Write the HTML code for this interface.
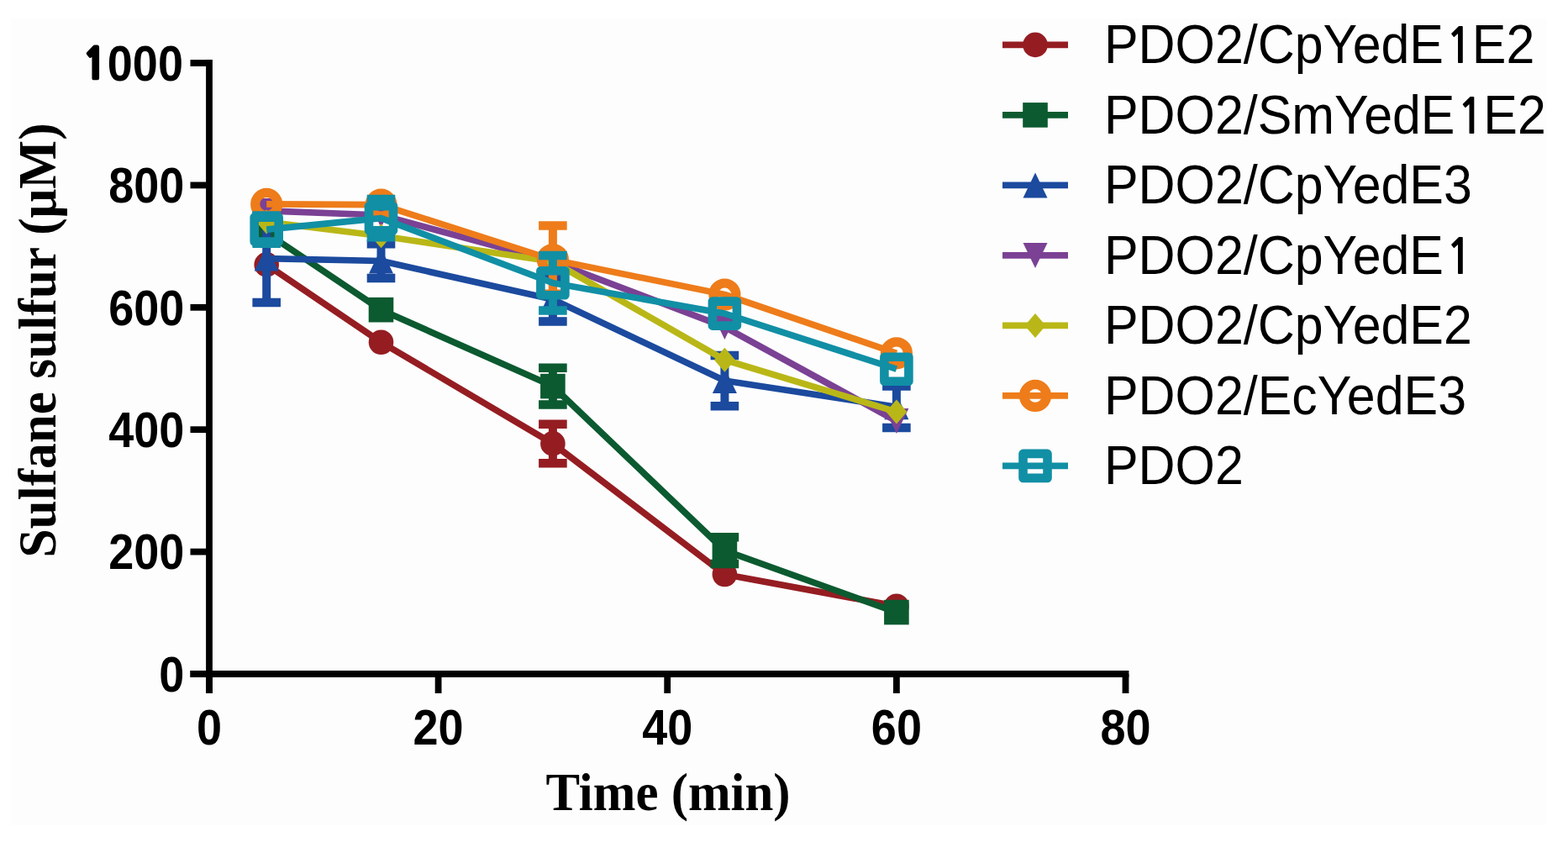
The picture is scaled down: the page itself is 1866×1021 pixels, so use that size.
<!DOCTYPE html>
<html><head><meta charset="utf-8"><title>Sulfane sulfur</title>
<style>
html,body{margin:0;padding:0;background:#fff;}
body{width:1866px;height:1021px;overflow:hidden;position:relative;}
svg{position:absolute;left:0;top:0;}
.tk{font-family:"Liberation Sans",Arial,sans-serif;font-weight:bold;font-size:56px;fill:#000;}
.ttl{font-family:"Liberation Serif","Times New Roman",serif;font-weight:bold;font-size:63px;fill:#000;}
.lg{font-family:"Liberation Sans",Arial,sans-serif;font-size:60px;fill:#000;}
.one{font-family:"NanumGothic","Liberation Sans",sans-serif;}
.tk .one{font-weight:800;font-size:46.5px;stroke:#000;stroke-width:2.6px;}
.lg .one{font-weight:bold;font-size:53.5px;}
</style></head>
<body>
<svg width="1866" height="1021" viewBox="0 0 1866 1021">
<defs><mask id="m_orange" maskUnits="userSpaceOnUse" x="0" y="0" width="1866" height="1021"><rect width="1866" height="1021" fill="#fff"/><circle cx="317.2" cy="242.9" r="18" fill="#000"/><circle cx="453.5" cy="243.7" r="18" fill="#000"/><circle cx="657.9" cy="309.1" r="18" fill="#000"/><circle cx="862.4" cy="350.5" r="18" fill="#000"/><circle cx="1066.9" cy="420.3" r="18" fill="#000"/></mask><mask id="m_teal" maskUnits="userSpaceOnUse" x="0" y="0" width="1866" height="1021"><rect width="1866" height="1021" fill="#fff"/><rect x="299.2" y="255.1" width="36" height="36" fill="#000"/><rect x="435.5" y="241.7" width="36" height="36" fill="#000"/><rect x="639.9" y="318.7" width="36" height="36" fill="#000"/><rect x="844.4" y="355.1" width="36" height="36" fill="#000"/><rect x="1048.9" y="421.2" width="36" height="36" fill="#000"/></mask></defs>
<rect x="13" y="22" width="1828" height="960" fill="#fdfdfd"/>
<path d="M249.0,71.1 V825.0" stroke="#000" stroke-width="7.8" fill="none"/>
<path d="M226.5,802.0 H1343.4" stroke="#000" stroke-width="7.8" fill="none"/>
<path d="M226.5,802.0 H249.0" stroke="#000" stroke-width="7.8"/>
<text transform="translate(219.3,822.8) scale(0.965,1.065)" text-anchor="end" class="tk">0</text>
<path d="M226.5,656.6 H249.0" stroke="#000" stroke-width="7.8"/>
<text transform="translate(219.3,677.4) scale(0.965,1.065)" text-anchor="end" class="tk">200</text>
<path d="M226.5,511.2 H249.0" stroke="#000" stroke-width="7.8"/>
<text transform="translate(219.3,532.0) scale(0.965,1.065)" text-anchor="end" class="tk">400</text>
<path d="M226.5,365.8 H249.0" stroke="#000" stroke-width="7.8"/>
<text transform="translate(219.3,386.6) scale(0.965,1.065)" text-anchor="end" class="tk">600</text>
<path d="M226.5,220.4 H249.0" stroke="#000" stroke-width="7.8"/>
<text transform="translate(219.3,241.2) scale(0.965,1.065)" text-anchor="end" class="tk">800</text>
<path d="M226.5,75.0 H249.0" stroke="#000" stroke-width="7.8"/>
<text transform="translate(219.3,95.8) scale(0.965,1.065)" text-anchor="end" class="tk"><tspan class="one" dx="-1.4" dy="-1.6">1</tspan><tspan dx="1.4" dy="1.6">000</tspan></text>
<path d="M249.0,802.0 V825.0" stroke="#000" stroke-width="7.8"/>
<text transform="translate(249.0,886) scale(0.965,1.065)" text-anchor="middle" class="tk">0</text>
<path d="M521.6,802.0 V825.0" stroke="#000" stroke-width="7.8"/>
<text transform="translate(521.6,886) scale(0.965,1.065)" text-anchor="middle" class="tk">20</text>
<path d="M794.2,802.0 V825.0" stroke="#000" stroke-width="7.8"/>
<text transform="translate(794.2,886) scale(0.965,1.065)" text-anchor="middle" class="tk">40</text>
<path d="M1066.9,802.0 V825.0" stroke="#000" stroke-width="7.8"/>
<text transform="translate(1066.9,886) scale(0.965,1.065)" text-anchor="middle" class="tk">60</text>
<path d="M1339.5,802.0 V825.0" stroke="#000" stroke-width="7.8"/>
<text transform="translate(1339.5,886) scale(0.965,1.065)" text-anchor="middle" class="tk">80</text>
<text transform="translate(795,964) scale(0.966,1)" text-anchor="middle" class="ttl">Time (min)</text>
<text transform="translate(66,405) rotate(-90) scale(0.973,1)" text-anchor="middle" class="ttl">Sulfane sulfur (μM)</text>
<g><g>


<path d="M657.9,504.7 V551.2" stroke="#951D22" stroke-width="10" fill="none"/><path d="M641.1,504.7 H674.7 M641.1,551.2 H674.7" stroke="#951D22" stroke-width="10.5" fill="none"/>


</g>
<polyline points="317.2,314.9 453.5,407.2 657.9,527.9 862.4,683.5 1066.9,721.3" fill="none" stroke="#951D22" stroke-width="7.7" stroke-linejoin="round"/>
<circle cx="317.2" cy="314.9" r="14.8" fill="#951D22"/>
<circle cx="453.5" cy="407.2" r="14.8" fill="#951D22"/>
<circle cx="657.9" cy="527.9" r="14.8" fill="#951D22"/>
<circle cx="862.4" cy="683.5" r="14.8" fill="#951D22"/>
<circle cx="1066.9" cy="721.3" r="14.8" fill="#951D22"/>
</g>
<g><g>


<path d="M657.9,437.8 V481.4" stroke="#0C5A30" stroke-width="10" fill="none"/><path d="M641.1,437.8 H674.7 M641.1,481.4 H674.7" stroke="#0C5A30" stroke-width="10.5" fill="none"/>
<path d="M862.4,639.2 V671.1" stroke="#0C5A30" stroke-width="10" fill="none"/><path d="M845.6,639.2 H879.2 M845.6,671.1 H879.2" stroke="#0C5A30" stroke-width="10.5" fill="none"/>

</g>
<polyline points="317.2,277.1 453.5,368.7 657.9,459.6 862.4,655.1 1066.9,728.6" fill="none" stroke="#0C5A30" stroke-width="7.7" stroke-linejoin="round"/>
<rect x="302.4" y="262.3" width="29.6" height="29.6" fill="#0C5A30"/>
<rect x="438.7" y="353.9" width="29.6" height="29.6" fill="#0C5A30"/>
<rect x="643.1" y="444.8" width="29.6" height="29.6" fill="#0C5A30"/>
<rect x="847.6" y="640.3" width="29.6" height="29.6" fill="#0C5A30"/>
<rect x="1052.1" y="713.8" width="29.6" height="29.6" fill="#0C5A30"/>
</g>
<g><g>
<path d="M317.2,255.3 V360.0" stroke="#1B4A9E" stroke-width="10" fill="none"/><path d="M300.4,255.3 H334.0 M300.4,360.0 H334.0" stroke="#1B4A9E" stroke-width="10.5" fill="none"/>
<path d="M453.5,290.2 V330.9" stroke="#1B4A9E" stroke-width="10" fill="none"/><path d="M436.7,290.2 H470.3 M436.7,330.9 H470.3" stroke="#1B4A9E" stroke-width="10.5" fill="none"/>
<path d="M657.9,330.2 V382.5" stroke="#1B4A9E" stroke-width="10" fill="none"/><path d="M641.1,330.2 H674.7 M641.1,382.5 H674.7" stroke="#1B4A9E" stroke-width="10.5" fill="none"/>
<path d="M862.4,422.9 V483.2" stroke="#1B4A9E" stroke-width="10" fill="none"/><path d="M845.6,422.9 H879.2 M845.6,483.2 H879.2" stroke="#1B4A9E" stroke-width="10.5" fill="none"/>
<path d="M1066.9,459.6 V509.0" stroke="#1B4A9E" stroke-width="10" fill="none"/><path d="M1050.1,459.6 H1083.7 M1050.1,509.0 H1083.7" stroke="#1B4A9E" stroke-width="10.5" fill="none"/>
</g>
<polyline points="317.2,307.6 453.5,310.5 657.9,356.3 862.4,453.0 1066.9,484.3" fill="none" stroke="#1B4A9E" stroke-width="7.7" stroke-linejoin="round"/>
<path d="M317.2,292.6 L331.7,322.6 L302.7,322.6Z" fill="#1B4A9E"/>
<path d="M453.5,295.5 L468.0,325.5 L439.0,325.5Z" fill="#1B4A9E"/>
<path d="M657.9,341.3 L672.4,371.3 L643.4,371.3Z" fill="#1B4A9E"/>
<path d="M862.4,438.0 L876.9,468.0 L847.9,468.0Z" fill="#1B4A9E"/>
<path d="M1066.9,469.3 L1081.4,499.3 L1052.4,499.3Z" fill="#1B4A9E"/>
</g>
<g><g>





</g>
<polyline points="317.2,250.9 453.5,256.0 657.9,311.3 862.4,389.1 1066.9,501.0" fill="none" stroke="#7B4194" stroke-width="7.7" stroke-linejoin="round"/>
<path d="M317.2,265.9 L331.7,235.9 L302.7,235.9Z" fill="#7B4194"/>
<path d="M453.5,271.0 L468.0,241.0 L439.0,241.0Z" fill="#7B4194"/>
<path d="M657.9,326.3 L672.4,296.3 L643.4,296.3Z" fill="#7B4194"/>
<path d="M862.4,404.1 L876.9,374.1 L847.9,374.1Z" fill="#7B4194"/>
<path d="M1066.9,516.0 L1081.4,486.0 L1052.4,486.0Z" fill="#7B4194"/>
</g>
<g><g>





</g>
<polyline points="317.2,264.0 453.5,280.7 657.9,311.3 862.4,428.3 1066.9,490.1" fill="none" stroke="#B9B717" stroke-width="7.7" stroke-linejoin="round"/>
<path d="M317.2,249.5 L329.7,264.0 L317.2,278.5 L304.7,264.0Z" fill="#B9B717"/>
<path d="M453.5,266.2 L466.0,280.7 L453.5,295.2 L441.0,280.7Z" fill="#B9B717"/>
<path d="M657.9,296.8 L670.4,311.3 L657.9,325.8 L645.4,311.3Z" fill="#B9B717"/>
<path d="M862.4,413.8 L874.9,428.3 L862.4,442.8 L849.9,428.3Z" fill="#B9B717"/>
<path d="M1066.9,475.6 L1079.4,490.1 L1066.9,504.6 L1054.4,490.1Z" fill="#B9B717"/>
</g>
<g><g mask="url(#m_orange)">


<path d="M657.9,268.4 V349.8" stroke="#EE7C1A" stroke-width="10" fill="none"/><path d="M641.1,268.4 H674.7 M641.1,349.8 H674.7" stroke="#EE7C1A" stroke-width="10.5" fill="none"/>


</g>
<polyline points="317.2,242.9 453.5,243.7 657.9,309.1 862.4,350.5 1066.9,420.3" fill="none" stroke="#EE7C1A" stroke-width="7.7" stroke-linejoin="round"/>
<circle cx="317.2" cy="242.9" r="13.5" fill="none" stroke="#EE7C1A" stroke-width="11.2"/>
<circle cx="453.5" cy="243.7" r="13.5" fill="none" stroke="#EE7C1A" stroke-width="11.2"/>
<circle cx="657.9" cy="309.1" r="13.5" fill="none" stroke="#EE7C1A" stroke-width="11.2"/>
<circle cx="862.4" cy="350.5" r="13.5" fill="none" stroke="#EE7C1A" stroke-width="11.2"/>
<circle cx="1066.9" cy="420.3" r="13.5" fill="none" stroke="#EE7C1A" stroke-width="11.2"/>
</g>
<g><g mask="url(#m_teal)">
<path d="M317.2,256.4 V289.8" stroke="#118FA5" stroke-width="10" fill="none"/><path d="M300.4,256.4 H334.0 M300.4,289.8 H334.0" stroke="#118FA5" stroke-width="10.5" fill="none"/>
<path d="M453.5,237.1 V282.2" stroke="#118FA5" stroke-width="10" fill="none"/><path d="M436.7,237.1 H470.3 M436.7,282.2 H470.3" stroke="#118FA5" stroke-width="10.5" fill="none"/>
<path d="M657.9,304.0 V369.4" stroke="#118FA5" stroke-width="10" fill="none"/><path d="M641.1,304.0 H674.7 M641.1,369.4 H674.7" stroke="#118FA5" stroke-width="10.5" fill="none"/>


</g>
<polyline points="317.2,273.1 453.5,259.7 657.9,336.7 862.4,373.1 1066.9,439.2" fill="none" stroke="#118FA5" stroke-width="7.7" stroke-linejoin="round"/>
<rect x="302.7" y="258.6" width="29" height="29" fill="none" stroke="#118FA5" stroke-width="10.6" stroke-linejoin="round"/>
<rect x="439.0" y="245.2" width="29" height="29" fill="none" stroke="#118FA5" stroke-width="10.6" stroke-linejoin="round"/>
<rect x="643.4" y="322.2" width="29" height="29" fill="none" stroke="#118FA5" stroke-width="10.6" stroke-linejoin="round"/>
<rect x="847.9" y="358.6" width="29" height="29" fill="none" stroke="#118FA5" stroke-width="10.6" stroke-linejoin="round"/>
<rect x="1052.4" y="424.7" width="29" height="29" fill="none" stroke="#118FA5" stroke-width="10.6" stroke-linejoin="round"/>
</g>
<path d="M1193,53.4 H1271" stroke="#951D22" stroke-width="7.7"/>
<circle cx="1232.0" cy="53.4" r="14.8" fill="#951D22"/>
<text transform="translate(1314,75.4) scale(1.015,1.09)" class="lg">PDO2/CpYedE<tspan class="one" dx="2.3">1</tspan><tspan dx="-1.35">E2</tspan></text>
<path d="M1193,136.9 H1271" stroke="#0C5A30" stroke-width="7.7"/>
<rect x="1217.2" y="122.1" width="29.6" height="29.6" fill="#0C5A30"/>
<text transform="translate(1314,158.9) scale(1.015,1.09)" class="lg">PDO2/SmYedE<tspan class="one" dx="2.3">1</tspan><tspan dx="-1.35">E2</tspan></text>
<path d="M1193,220.4 H1271" stroke="#1B4A9E" stroke-width="7.7"/>
<path d="M1232.0,205.4 L1246.5,235.4 L1217.5,235.4Z" fill="#1B4A9E"/>
<text transform="translate(1314,242.4) scale(1.015,1.09)" class="lg">PDO2/CpYedE3</text>
<path d="M1193,303.9 H1271" stroke="#7B4194" stroke-width="7.7"/>
<path d="M1232.0,318.9 L1246.5,288.9 L1217.5,288.9Z" fill="#7B4194"/>
<text transform="translate(1314,325.9) scale(1.015,1.09)" class="lg">PDO2/CpYedE<tspan class="one" dx="2.3">1</tspan></text>
<path d="M1193,387.4 H1271" stroke="#B9B717" stroke-width="7.7"/>
<path d="M1232.0,372.9 L1244.5,387.4 L1232.0,401.9 L1219.5,387.4Z" fill="#B9B717"/>
<text transform="translate(1314,409.4) scale(1.015,1.09)" class="lg">PDO2/CpYedE2</text>
<path d="M1193,470.9 H1271" stroke="#EE7C1A" stroke-width="7.7"/>
<circle cx="1232.0" cy="470.9" r="13.5" fill="none" stroke="#EE7C1A" stroke-width="11.2"/>
<text transform="translate(1314,492.9) scale(1.015,1.09)" class="lg">PDO2/EcYedE3</text>
<path d="M1193,554.4 H1271" stroke="#118FA5" stroke-width="7.7"/>
<rect x="1217.5" y="539.9" width="29" height="29" fill="none" stroke="#118FA5" stroke-width="10.6" stroke-linejoin="round"/>
<text transform="translate(1314,576.4) scale(1.015,1.09)" class="lg">PDO2</text>
</svg>
</body></html>
